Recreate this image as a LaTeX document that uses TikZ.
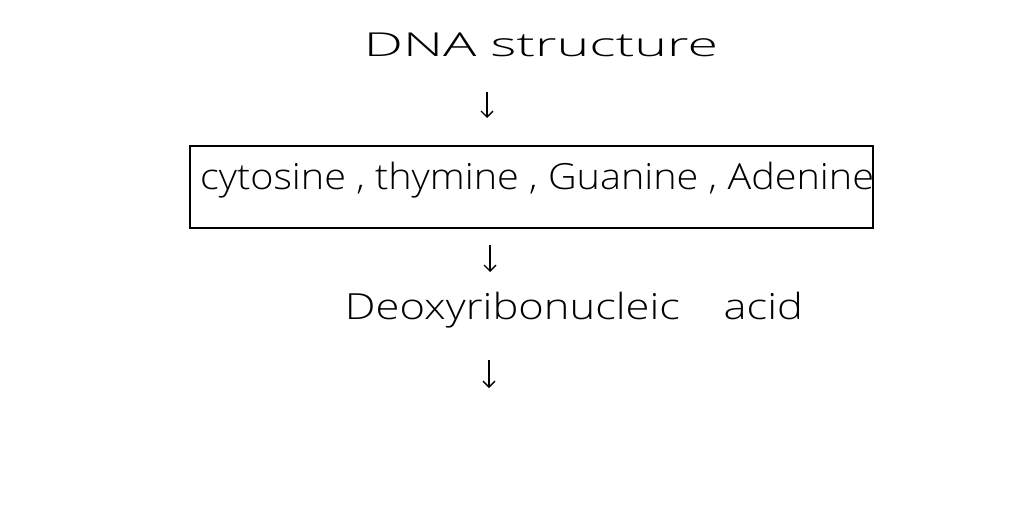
\documentclass[tikz,border=0pt]{standalone}
\usepackage{fontspec}
\setmainfont{Open Sans Light}[Scale=1]
\usetikzlibrary{arrows.meta}
\begin{document}
\begin{tikzpicture}[x=1pt,y=-1pt,
  lbl/.style={font=\fontsize{30}{34}\selectfont, inner sep=0pt},
  arr/.style={-{Straight Barb[length=6pt,width=12pt]}, line width=1.3pt}]
\useasboundingbox[fill=white] (0,0) rectangle (1024,512);
\node[lbl, xscale=1.85, yscale=1.1] (dna) at (541,45) {DNA structure};
\draw[line width=1.3pt] (190,146) rectangle (873,228);
\node[lbl, xscale=1.32, yscale=1.2] (bases) at (537,180) {cytosine , thymine , Guanine , Adenine};
\node[lbl, xscale=1.45, yscale=1.2] (deoxy) at (574,310) {Deoxyribonucleic\quad acid};
\coordinate (a1s) at (487,92); \coordinate (a1e) at (487,118);
\coordinate (a2s) at (490,245); \coordinate (a2e) at (490,272);
\coordinate (a3s) at (489,360); \coordinate (a3e) at (489,388);
\draw[arr] (a1s) -- (a1e);
\draw[arr] (a2s) -- (a2e);
\draw[arr] (a3s) -- (a3e);
\end{tikzpicture}
\end{document}
